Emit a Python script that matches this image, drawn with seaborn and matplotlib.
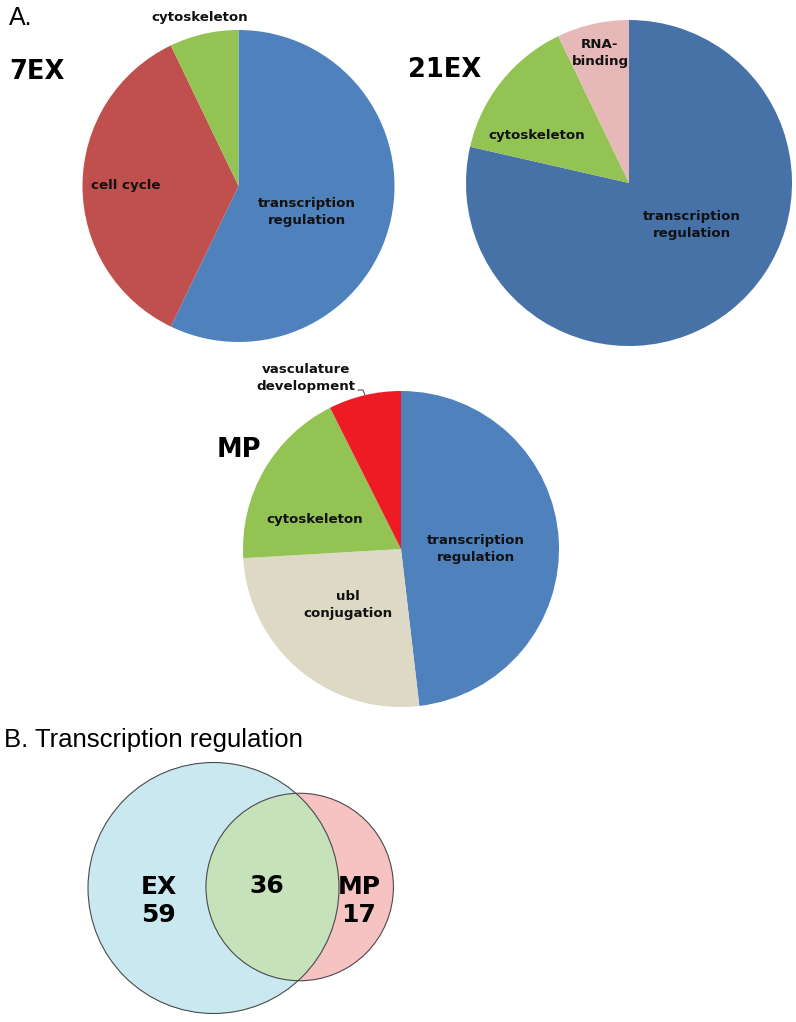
import numpy as np
import matplotlib
matplotlib.use("Agg")
import matplotlib.pyplot as plt
import seaborn as sns
from matplotlib.patches import Circle

# =========================================================
# DATA
# =========================================================
ex7_labels = ["transcription\nregulation", "cell cycle", "cytoskeleton"]
ex7_counts = [8, 5, 1]
ex7_colors = ["#4F81BD", "#C0504D", "#92C353"]

ex21_labels = ["transcription\nregulation", "cytoskeleton", "RNA-\nbinding"]
ex21_counts = [11, 2, 1]
ex21_colors = ["#4672A8", "#92C353", "#E6B9B8"]

mp_labels = ["transcription\nregulation", "ubl\nconjugation", "cytoskeleton",
             "vasculature\ndevelopment"]
mp_counts = [13, 7, 5, 2]
mp_colors = ["#4F81BD", "#DDD9C4", "#92C353", "#ED1C24"]

venn_sets = ["EX", "MP"]
venn_only = [59, 17]
venn_shared = 36
venn_colors = ["#C9E8F0", "#F7C2C2", "#C6E2BA"]

# =========================================================
# LAYOUT (pixel coordinates, y down)
# =========================================================
W, H = 796, 1022
pies = [
    # name, labels, counts, colors, center, radius, title pos, label positions
    ("7EX", ex7_labels, ex7_counts, ex7_colors, (238.5, 186), 156, (37, 72),
     [(307, 212), (126, 185), (200, 17)]),
    ("21EX", ex21_labels, ex21_counts, ex21_colors, (629, 183), 163, (445, 70),
     [(692, 225), (537, 135), (600, 53)]),
    ("MP", mp_labels, mp_counts, mp_colors, (401, 549), 158, (239, 450),
     [(476, 549), (348, 605), (315, 520), (306, 378)]),
]

sns.set_theme(style="white")
plt.rcParams['font.family'] = ['DejaVu Sans']
plt.rcParams['text.color'] = 'black'

fig = plt.figure(figsize=(W / 100, H / 100), dpi=100)
ax = fig.add_axes([0, 0, 1, 1])

for name, labels, counts, colors, center, radius, tpos, lpos in pies:
    # y axis is inverted below, so start at -90 and go counterclockwise
    ax.pie(counts, colors=colors, startangle=-90, counterclock=True,
           center=center, radius=radius,
           wedgeprops=dict(linewidth=0))
    ax.text(tpos[0], tpos[1], name, fontsize=18.5, fontweight="bold",
            ha="center", va="center", color="black")
    for lab, (x, y) in zip(labels, lpos):
        ax.text(x, y, lab, fontsize=9.6, fontweight="bold", ha="center",
                va="center", color="#111111", linespacing=1.35)

# leader for the small MP slice
ax.plot([358, 363, 365], [390, 390, 395], color="#555555", lw=0.8)

# panel letters
ax.text(9, 18, "A.", fontsize=18, family="Liberation Sans", ha="left",
        va="center", color="black")
ax.text(4, 740, "B. Transcription regulation", fontsize=18.5,
        family="Liberation Sans", ha="left", va="center", color="black")

# =========================================================
# VENN (area proportional)
# =========================================================
n1 = venn_only[0] + venn_shared
n2 = venn_only[1] + venn_shared
k = 125.5 / np.sqrt(n1)
r1, r2 = k * np.sqrt(n1), k * np.sqrt(n2)


def lens_area(d):
    a1 = np.arccos((d**2 + r1**2 - r2**2) / (2 * d * r1))
    a2 = np.arccos((d**2 + r2**2 - r1**2) / (2 * d * r2))
    tri = 0.5 * np.sqrt((-d + r1 + r2) * (d + r1 - r2) * (d - r1 + r2) * (d + r1 + r2))
    return r1**2 * a1 + r2**2 * a2 - tri


target = np.pi * k**2 * venn_shared
lo, hi = abs(r1 - r2) + 1e-6, r1 + r2 - 1e-6
for _ in range(80):
    mid = 0.5 * (lo + hi)
    if lens_area(mid) > target:
        lo = mid
    else:
        hi = mid
d = 0.5 * (lo + hi)

c1 = (213.5, 888)
c2 = (c1[0] + d, 887)

ex_circle = Circle(c1, r1, facecolor=venn_colors[0], edgecolor="none")
mp_circle = Circle(c2, r2, facecolor=venn_colors[1], edgecolor="none")
ax.add_patch(ex_circle)
ax.add_patch(mp_circle)
overlap = Circle(c2, r2, facecolor=venn_colors[2], edgecolor="none")
ax.add_patch(overlap)
overlap.set_clip_path(ex_circle)
ax.add_patch(Circle(c1, r1, facecolor="none", edgecolor="#4a4a4a", lw=0.8))
ax.add_patch(Circle(c2, r2, facecolor="none", edgecolor="#4a4a4a", lw=0.8))

ax.text(141, 901, f"{venn_sets[0]}\n{venn_only[0]}", fontsize=18, fontweight="bold",
        ha="left", va="center", multialignment="left", linespacing=1.25,
        color="black")
ax.text(267, 886, f"{venn_shared}", fontsize=18, fontweight="bold",
        ha="center", va="center", color="black")
ax.text(359, 901, f"{venn_sets[1]}\n{venn_only[1]}", fontsize=18, fontweight="bold",
        ha="center", va="center", linespacing=1.25, color="black")

ax.set_xlim(0, W)
ax.set_ylim(H, 0)
ax.set_aspect("equal")
ax.axis("off")

fig.savefig("out.png", dpi=100, facecolor="white")
